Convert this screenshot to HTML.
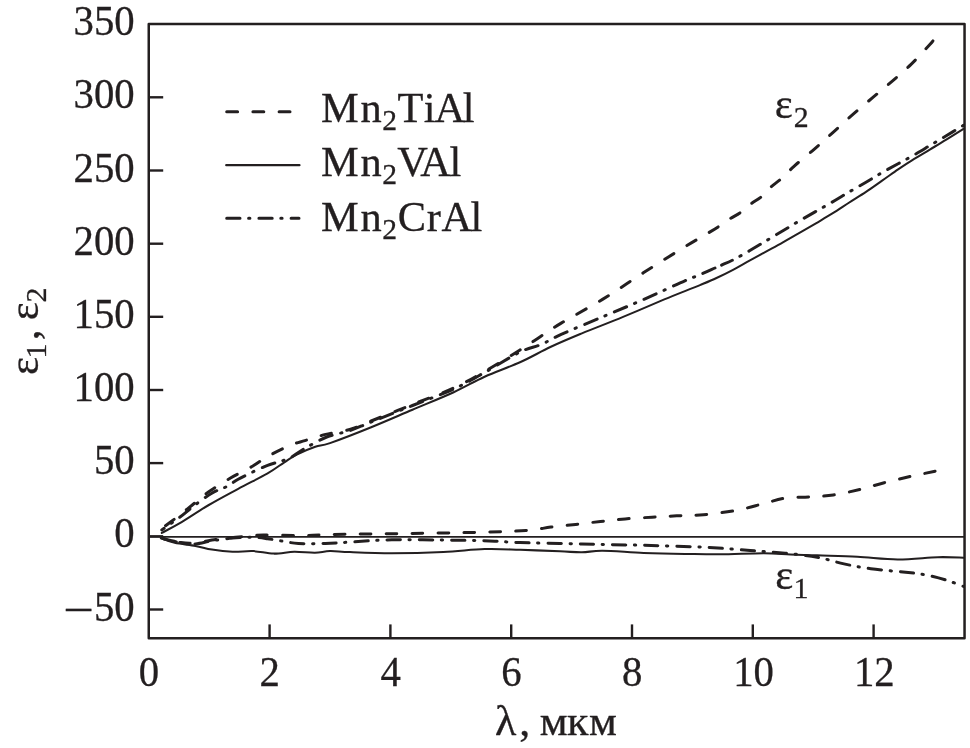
<!DOCTYPE html>
<html lang="ru">
<head>
<meta charset="utf-8">
<title>ε₁, ε₂ — λ, мкм</title>
<style>
html,body{margin:0;padding:0;background:#fff;}
body{width:970px;height:748px;overflow:hidden;}
svg{display:block;}
</style>
</head>
<body>
<svg width="970" height="748" viewBox="0 0 970 748">
<rect x="0" y="0" width="970" height="748" fill="#ffffff"/>
<g fill="none" stroke="#231f20" stroke-linecap="round" stroke-linejoin="round">
<rect x="148.75" y="23.9" width="815.8" height="614.4" stroke-width="2.5"/>
<line x1="148.75" y1="536.85" x2="964.55" y2="536.85" stroke-width="1.85" stroke-linecap="butt"/>
<line x1="148.75" y1="609.5" x2="163.2" y2="609.5" stroke-width="2.4" stroke-linecap="butt"/>
<line x1="148.75" y1="536.3" x2="163.2" y2="536.3" stroke-width="2.4" stroke-linecap="butt"/>
<line x1="148.75" y1="463.1" x2="163.2" y2="463.1" stroke-width="2.4" stroke-linecap="butt"/>
<line x1="148.75" y1="390.0" x2="163.2" y2="390.0" stroke-width="2.4" stroke-linecap="butt"/>
<line x1="148.75" y1="316.8" x2="163.2" y2="316.8" stroke-width="2.4" stroke-linecap="butt"/>
<line x1="148.75" y1="243.7" x2="163.2" y2="243.7" stroke-width="2.4" stroke-linecap="butt"/>
<line x1="148.75" y1="170.5" x2="163.2" y2="170.5" stroke-width="2.4" stroke-linecap="butt"/>
<line x1="148.75" y1="97.3" x2="163.2" y2="97.3" stroke-width="2.4" stroke-linecap="butt"/>
<line x1="269.6" y1="638.3" x2="269.6" y2="624.4" stroke-width="2.4" stroke-linecap="butt"/>
<line x1="390.4" y1="638.3" x2="390.4" y2="624.4" stroke-width="2.4" stroke-linecap="butt"/>
<line x1="511.2" y1="638.3" x2="511.2" y2="624.4" stroke-width="2.4" stroke-linecap="butt"/>
<line x1="632.0" y1="638.3" x2="632.0" y2="624.4" stroke-width="2.4" stroke-linecap="butt"/>
<line x1="752.8" y1="638.3" x2="752.8" y2="624.4" stroke-width="2.4" stroke-linecap="butt"/>
<line x1="873.6" y1="638.3" x2="873.6" y2="624.4" stroke-width="2.4" stroke-linecap="butt"/>
<clipPath id="plotclip"><rect x="148.8" y="23.9" width="815.8" height="614.4"/></clipPath>
<g clip-path="url(#plotclip)">
<path d="M161.8 532.9 C164.7 531.3 171.6 528.0 179.4 523.4 C187.2 518.8 199.0 510.8 208.8 505.0 C218.6 499.2 228.4 494.1 238.2 488.8 C248.0 483.5 259.9 477.8 267.6 473.4 C275.3 469.0 279.5 465.4 284.3 462.3 C289.1 459.2 291.5 457.2 296.7 454.6 C301.9 452.0 309.8 448.7 315.3 446.8 C320.9 444.9 320.7 446.4 330.0 443.1 C339.3 439.8 357.4 432.8 371.2 427.2 C384.9 421.6 398.8 415.5 412.5 409.7 C426.2 403.9 441.7 397.7 453.7 392.2 C465.7 386.7 473.6 381.7 484.6 376.7 C495.7 371.7 508.9 367.3 520.0 362.3 C531.0 357.3 540.6 351.6 550.9 346.8 C561.2 342.0 569.9 338.4 581.9 333.4 C593.9 328.4 609.4 322.6 623.1 316.9 C636.8 311.2 651.5 304.7 664.3 299.4 C677.1 294.1 691.3 288.7 700.0 285.1 C708.7 281.5 711.0 280.6 716.5 278.0 C722.0 275.4 727.5 272.7 733.0 269.8 C738.5 266.9 744.0 263.7 749.5 260.7 C755.0 257.7 760.5 254.6 766.0 251.6 C771.5 248.6 777.0 245.7 782.5 242.6 C788.0 239.5 793.5 236.4 799.0 233.2 C804.5 230.0 810.0 226.8 815.5 223.6 C821.0 220.3 826.5 217.1 832.0 213.7 C837.5 210.3 842.8 206.7 848.5 203.0 C854.2 199.3 860.4 195.5 866.0 191.8 C871.6 188.1 876.8 184.3 882.1 180.6 C887.5 176.9 892.8 173.0 898.1 169.4 C903.5 165.8 908.9 162.2 914.2 158.9 C919.6 155.6 924.9 152.5 930.2 149.3 C935.6 146.1 940.8 143.1 946.3 139.7 C951.8 136.3 960.6 130.7 963.5 128.9" stroke-width="2.05"/>
<path d="M161.3 538.1 C163.5 538.9 169.0 541.5 174.7 542.8 C180.4 544.1 189.2 544.8 195.4 545.9 C201.6 547.0 205.7 548.6 211.9 549.6 C218.1 550.6 225.6 551.5 232.5 551.7 C239.4 552.0 246.2 550.8 253.1 551.1 C260.0 551.4 266.8 553.5 273.7 553.6 C280.6 553.7 287.4 551.9 294.3 551.7 C301.2 551.6 308.9 552.8 314.9 552.7 C320.8 552.6 324.1 551.2 330.0 551.1 C335.9 551.0 339.7 551.8 350.0 552.1 C360.3 552.5 376.3 553.2 391.9 553.2 C407.5 553.2 427.9 552.7 443.4 552.0 C458.8 551.3 471.8 549.5 484.6 549.1 C497.4 548.7 507.4 549.4 520.0 549.8 C532.6 550.2 549.7 550.9 560.0 551.3 C570.3 551.7 574.8 552.4 581.9 552.3 C589.0 552.2 592.2 550.7 602.5 550.8 C612.8 550.9 630.0 552.4 643.7 552.9 C657.4 553.4 672.2 553.7 684.9 553.9 C697.6 554.1 706.9 554.4 720.0 554.3 C733.1 554.2 751.9 553.2 763.6 553.2 C775.3 553.2 781.5 554.1 790.4 554.5 C799.3 554.9 806.0 554.9 817.2 555.3 C828.4 555.7 844.0 556.0 857.4 556.7 C870.8 557.4 884.2 559.3 897.6 559.4 C911.0 559.5 926.8 557.5 937.8 557.2 C948.8 556.9 959.2 557.6 963.5 557.7" stroke-width="2.05"/>
<path d="M161.8 528.5 C164.7 526.3 174.0 519.5 179.4 515.3 C184.8 511.1 189.2 507.4 194.1 503.5 C199.0 499.6 202.7 496.1 208.8 491.8 C214.9 487.5 223.6 482.1 230.9 477.8 C238.2 473.5 246.8 469.6 252.9 466.0 C259.0 462.4 261.4 459.9 267.6 456.5 C273.8 453.1 283.8 448.0 290.0 445.4 C296.2 442.8 299.0 442.4 304.9 440.6 C310.8 438.8 318.0 436.3 325.6 434.4 C333.2 432.5 343.0 431.5 350.6 429.3 C358.2 427.1 360.9 425.1 371.2 421.0 C381.5 416.9 398.8 410.0 412.5 404.5 C426.2 399.0 441.7 393.5 453.7 388.0 C465.7 382.5 473.6 377.8 484.6 371.5 C495.7 365.2 510.7 355.8 520.0 350.0 C529.3 344.2 533.7 341.0 540.6 336.5 C547.5 332.0 550.9 329.3 561.2 323.1 C571.5 316.9 588.8 307.8 602.5 299.4 C616.2 291.0 630.0 281.4 643.7 272.6 C657.4 263.8 674.3 253.3 684.9 246.8 C695.5 240.3 701.9 236.8 707.4 233.5 C712.9 230.2 714.4 229.3 718.1 226.9 C721.8 224.5 726.0 221.4 729.7 219.0 C733.4 216.6 736.8 215.1 740.4 212.6 C744.0 210.1 747.5 206.5 751.1 203.8 C754.7 201.1 758.6 199.2 761.9 196.4 C765.2 193.6 767.8 189.9 770.9 187.0 C774.0 184.1 776.9 182.5 780.8 179.1 C784.6 175.7 788.5 171.3 794.0 166.3 C799.5 161.3 807.6 155.0 814.1 149.3 C820.6 143.6 826.6 138.2 833.1 132.3 C839.6 126.5 846.5 120.1 853.2 114.2 C859.9 108.3 866.7 102.7 873.2 97.2 C879.7 91.7 885.9 86.6 892.3 81.1 C898.6 75.6 905.1 70.1 911.3 64.1 C917.5 58.1 925.8 48.9 929.4 45.0 C933.0 41.1 932.3 41.6 932.9 40.9" stroke-width="3" stroke-dasharray="10.6 15.3" stroke-dashoffset="21.17"/>
<path d="M161.3 538.1 C164.6 538.9 175.2 541.8 180.9 542.6 C186.6 543.4 190.2 543.4 195.4 543.0 C200.6 542.6 207.4 540.7 211.9 540.0 C216.4 539.3 217.0 539.3 222.2 538.7 C227.3 538.1 235.9 537.2 242.8 536.6 C249.7 536.0 254.1 535.2 263.4 535.0 C272.7 534.8 288.9 535.6 298.5 535.6 C308.1 535.6 313.1 535.2 321.0 535.0 C328.9 534.8 332.7 534.4 345.9 534.2 C359.1 534.0 378.6 533.9 400.0 533.6 C421.4 533.3 453.3 532.9 474.3 532.4 C495.3 531.9 513.1 531.4 525.9 530.5 C538.7 529.6 542.6 528.1 550.9 527.1 C559.2 526.1 567.5 525.3 575.7 524.4 C584.0 523.5 592.1 522.4 600.4 521.5 C608.6 520.6 616.6 519.6 625.2 518.9 C633.8 518.2 643.4 517.7 652.0 517.2 C660.6 516.7 668.1 516.2 676.7 515.8 C685.3 515.4 693.5 515.6 703.5 514.7 C713.5 513.8 726.8 512.1 736.8 510.3 C746.8 508.4 755.6 505.6 763.6 503.6 C771.6 501.6 777.4 499.3 785.0 498.2 C792.6 497.1 801.2 497.4 809.2 496.9 C817.2 496.4 824.8 496.2 833.3 495.0 C841.8 493.8 851.6 491.4 860.1 489.4 C868.6 487.3 875.7 484.9 884.2 482.7 C892.7 480.5 902.5 478.2 911.0 476.3 C919.5 474.4 931.1 472.1 935.1 471.2" stroke-width="3" stroke-dasharray="10.6 15.3" stroke-dashoffset="7.05"/>
<path d="M161.8 530.0 C164.7 527.9 174.0 521.5 179.4 517.5 C184.8 513.5 188.7 509.8 194.1 505.7 C199.5 501.6 206.4 496.4 211.8 493.2 C217.2 490.0 222.1 488.9 226.5 486.6 C230.9 484.3 233.8 481.8 238.2 479.3 C242.6 476.9 248.0 474.2 252.9 471.9 C257.8 469.6 263.2 467.0 267.6 465.3 C272.0 463.6 275.7 462.8 279.4 461.6 C283.1 460.4 285.9 460.0 290.0 457.9 C294.1 455.8 298.1 452.4 304.0 449.0 C309.9 445.6 317.8 440.6 325.6 437.5 C333.4 434.4 343.0 432.9 350.6 430.3 C358.2 427.7 360.9 426.1 371.2 422.0 C381.5 417.9 398.8 411.0 412.5 405.5 C426.2 400.0 441.7 394.5 453.7 389.0 C465.7 383.5 473.6 378.7 484.6 372.5 C495.7 366.3 510.7 356.6 520.0 352.0 C529.3 347.4 533.7 347.6 540.6 344.7 C547.5 341.8 550.9 339.0 561.2 334.4 C571.5 329.8 588.8 322.7 602.5 316.9 C616.2 311.1 630.0 305.4 643.7 299.4 C657.4 293.4 675.5 284.9 684.9 280.8 C694.3 276.7 695.0 276.8 700.0 274.7 C705.0 272.6 712.5 269.1 715.0 268.0" stroke-width="3" stroke-dasharray="13.3 8.6 1.3 9" stroke-dashoffset="10.23"/>
<path d="M721.6 265.1 C723.5 264.2 728.4 262.3 733.0 259.9 C737.6 257.5 744.0 254.0 749.5 250.8 C755.0 247.6 760.5 244.2 766.0 240.9 C771.5 237.6 777.0 234.3 782.5 231.0 C788.0 227.7 793.5 224.3 799.0 221.1 C804.5 217.9 810.0 214.8 815.5 211.6 C821.0 208.4 826.5 205.4 832.0 202.2 C837.5 199.0 842.8 195.6 848.5 192.3 C854.2 189.0 860.4 185.5 866.0 182.2 C871.6 178.9 876.8 175.7 882.1 172.6 C887.5 169.5 892.8 166.6 898.1 163.7 C903.5 160.8 908.9 158.0 914.2 154.9 C919.6 151.8 924.9 148.5 930.2 145.3 C935.6 142.1 940.8 139.0 946.3 135.7 C951.8 132.4 960.6 127.0 963.5 125.3" stroke-width="3" stroke-dasharray="13.3 8.6 1.3 9" stroke-dashoffset="1.5"/>
<path d="M161.3 538.1 C164.6 538.9 175.2 541.8 180.9 542.8 C186.6 543.8 190.2 544.2 195.4 543.9 C200.6 543.6 205.7 541.8 211.9 540.8 C218.1 539.8 225.6 538.7 232.5 538.1 C239.4 537.5 247.3 537.2 253.1 537.3 C258.9 537.4 262.4 538.0 267.5 538.7 C272.6 539.4 278.8 540.6 284.0 541.4 C289.2 542.2 291.6 543.1 298.5 543.5 C305.4 543.9 316.7 543.7 325.3 543.5 C333.9 543.3 338.9 542.7 350.0 542.1 C361.1 541.5 374.6 540.1 391.9 539.8 C409.2 539.5 436.5 540.0 453.7 540.2 C470.9 540.4 483.8 540.8 494.9 541.2 C505.9 541.6 505.5 542.1 520.0 542.6 C534.5 543.1 561.3 543.5 581.9 544.0 C602.5 544.5 623.1 544.8 643.7 545.3 C664.3 545.8 687.9 546.4 705.6 547.3 C723.4 548.2 737.0 549.5 750.2 550.5 C763.4 551.5 773.8 552.1 785.0 553.2 C796.2 554.3 807.4 555.4 817.2 557.2 C827.0 559.0 835.1 562.0 844.0 563.9 C852.9 565.8 861.0 567.4 870.8 568.7 C880.6 570.1 894.1 571.0 903.0 572.0 C911.9 573.0 917.2 573.3 924.4 574.6 C931.5 575.9 939.4 578.0 945.9 580.0 C952.4 582.0 960.6 585.3 963.5 586.4" stroke-width="3" stroke-dasharray="13.3 8.6 1.3 9" stroke-dashoffset="30.06"/>
</g>
<line x1="226.7" y1="111.65" x2="290" y2="111.65" stroke-width="3" stroke-dasharray="10.9 15.3"/>
<line x1="226.2" y1="165.2" x2="299.5" y2="165.2" stroke-width="2.2"/>
<line x1="226.7" y1="218.3" x2="299" y2="218.3" stroke-width="3" stroke-dasharray="13.3 8.6 1.3 9"/>
</g>
<g fill="#231f20" stroke="#231f20" stroke-width="0.3" font-family="'Liberation Serif', 'Times New Roman', serif" font-size="41.6">
<text transform="translate(134.75 547.30) scale(0.98 1)" text-anchor="end">0</text>
<text transform="translate(134.75 474.14) scale(0.98 1)" text-anchor="end">50</text>
<text transform="translate(134.75 400.98) scale(0.98 1)" text-anchor="end">100</text>
<text transform="translate(134.75 327.82) scale(0.98 1)" text-anchor="end">150</text>
<text transform="translate(134.75 254.66) scale(0.98 1)" text-anchor="end">200</text>
<text transform="translate(134.75 181.50) scale(0.98 1)" text-anchor="end">250</text>
<text transform="translate(134.75 108.34) scale(0.98 1)" text-anchor="end">300</text>
<text transform="translate(134.75 35.18) scale(0.98 1)" text-anchor="end">350</text>
<text transform="translate(0 621.36)"><tspan x="66.3" dy="-0.9" textLength="24.7" lengthAdjust="spacingAndGlyphs">–</tspan><tspan x="93.98" dy="0.9" textLength="40.77" lengthAdjust="spacingAndGlyphs">50</tspan></text>
<text transform="translate(149.00 686.40) scale(0.98 1)" text-anchor="middle">0</text>
<text transform="translate(269.80 686.40) scale(0.98 1)" text-anchor="middle">2</text>
<text transform="translate(390.60 686.40) scale(0.98 1)" text-anchor="middle">4</text>
<text transform="translate(511.40 686.40) scale(0.98 1)" text-anchor="middle">6</text>
<text transform="translate(632.20 686.40) scale(0.98 1)" text-anchor="middle">8</text>
<text transform="translate(753.50 686.40) scale(0.98 1)" text-anchor="middle">10</text>
<text transform="translate(874.30 686.40) scale(0.98 1)" text-anchor="middle">12</text>
<text transform="translate(0 121.70) scale(1.02 1)"><tspan x="314.78 353.46">Mn</tspan><tspan x="374.71" font-size="29" dy="8.70">2</tspan><tspan x="389.64 415.40 425.97 453.68" dy="-8.70">TiAl</tspan></text>
<text transform="translate(0 175.70) scale(1.02 1)"><tspan x="314.78 353.46">Mn</tspan><tspan x="374.80" font-size="29" dy="8.70">2</tspan><tspan x="389.43 411.95 440.64" dy="-8.70">VAl</tspan></text>
<text transform="translate(0 230.70) scale(1.02 1)"><tspan x="314.78 353.46">Mn</tspan><tspan x="374.80" font-size="29" dy="8.70">2</tspan><tspan x="389.86 418.28 432.83 461.23" dy="-8.70">CrAl</tspan></text>
<text transform="translate(0 117.80) scale(1.03 1)"><tspan x="752.28">ε</tspan><tspan x="770.67" font-size="29" dy="8.70">2</tspan></text>
<text transform="translate(0 589.20) scale(1.03 1)"><tspan x="752.57">ε</tspan><tspan x="770.36" font-size="29" dy="8.70">1</tspan></text>
<text transform="translate(0 734.50) scale(1.06 1)"><tspan x="466.92 489.83 500.28 509.23 534.81 555.55">λ, мкм</tspan></text>
<text transform="translate(37.50 0) rotate(-90) scale(1.03 1)"><tspan x="-364.03">ε</tspan><tspan x="-348.08" font-size="29" dy="8.70">1</tspan><tspan x="-330.23 -320.10 -310.83" dy="-8.70">, ε</tspan><tspan x="-293.60" font-size="29" dy="8.70">2</tspan></text>
</g>
</svg>
</body>
</html>
